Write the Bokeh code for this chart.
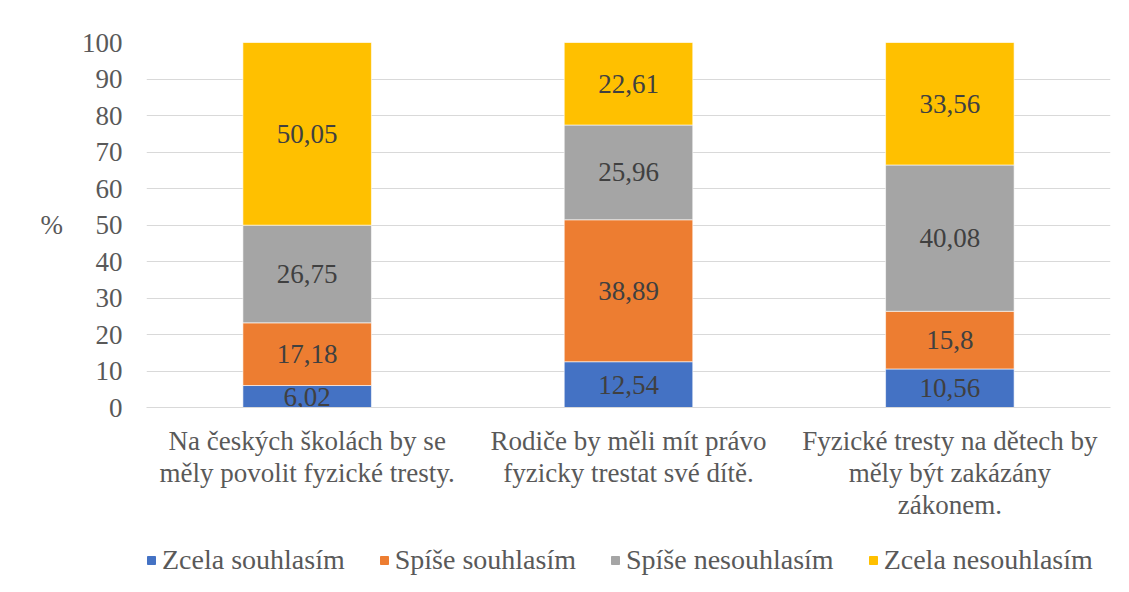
import numpy as np
from bokeh.plotting import figure
from bokeh.layouts import column
from bokeh.models import ColumnDataSource, Range1d, FixedTicker, Legend
from bokeh.core.properties import value
from bokeh.embed import file_html
from bokeh.resources import INLINE

categories = [
    "Na českých školách by se\nměly povolit fyzické tresty.",
    "Rodiče by měli mít právo\nfyzicky trestat své dítě.",
    "Fyzické tresty na dětech by\nměly být zakázány\nzákonem.",
]
series_names = ["Zcela souhlasím", "Spíše souhlasím", "Spíše nesouhlasím", "Zcela nesouhlasím"]
zcela_souhlasim = [6.02, 12.54, 10.56]
spise_souhlasim = [17.18, 38.89, 15.8]
spise_nesouhlasim = [26.75, 25.96, 40.08]
zcela_nesouhlasim = [50.05, 22.61, 33.56]
y_ticks = [0, 10, 20, 30, 40, 50, 60, 70, 80, 90, 100]

colors = ["#4472C4", "#ED7D31", "#A5A5A5", "#FFC000"]
FONT = "'Liberation Serif', 'Times New Roman', serif"
LEGEND_FONT = "Times New Roman"
FS = "27px"

xs = [i + 0.5 for i in range(len(categories))]
series = [zcela_souhlasim, spise_souhlasim, spise_nesouhlasim, zcela_nesouhlasim]
keys = ["s0", "s1", "s2", "s3"]
data = {"x": xs}
for k, s in zip(keys, series):
    data[k] = s
src = ColumnDataSource(data)

p = figure(width=1121, height=532, output_backend="svg", toolbar_location=None,
           x_range=Range1d(0, 3), y_range=Range1d(0, 100),
           min_border_left=146, min_border_right=11, min_border_top=42, min_border_bottom=125)
p.outline_line_color = None
p.background_fill_color = "white"
p.border_fill_color = "white"

renderers = p.vbar_stack(keys, x="x", width=0.4, source=src, color=colors,
                         line_color="white", line_width=0.6)

# data labels
arr = np.array(series)
cum = np.cumsum(arr, axis=0)
mids = cum - arr / 2
lx, ly, lt = [], [], []
for si in range(arr.shape[0]):
    for ci in range(arr.shape[1]):
        lx.append(xs[ci])
        ly.append(mids[si, ci])
        lt.append(str(series[si][ci]).replace(".", ","))
p.text(x=lx, y=ly, text=lt, text_align="center", text_baseline="middle",
       text_font=value(FONT), text_font_size=FS, text_color="#404040")

# axes
p.xaxis.ticker = FixedTicker(ticks=xs)
p.xaxis.major_label_overrides = {x: c for x, c in zip(xs, categories)}
p.xaxis.major_tick_line_color = None
p.xaxis.minor_tick_line_color = None
p.xaxis.major_tick_out = 0
p.xaxis.axis_line_color = "#D9D9D9"
p.xaxis.major_label_standoff = 18
p.xaxis.major_label_text_font = FONT
p.xaxis.major_label_text_font_size = FS
p.xaxis.major_label_text_color = "#595959"
p.xaxis.major_label_text_line_height = 1.07

p.yaxis.ticker = FixedTicker(ticks=y_ticks)
p.yaxis.axis_line_color = None
p.yaxis.major_tick_line_color = None
p.yaxis.minor_tick_line_color = None
p.yaxis.major_label_standoff = 18
p.yaxis.major_label_text_font = FONT
p.yaxis.major_label_text_font_size = FS
p.yaxis.major_label_text_color = "#595959"
p.yaxis.axis_label = "%"
p.yaxis.axis_label_text_font = FONT
p.yaxis.axis_label_text_font_size = FS
p.yaxis.axis_label_text_font_style = "normal"
p.yaxis.axis_label_text_color = "#595959"
p.yaxis.axis_label_standoff = 16
if "axis_label_orientation" in p.yaxis[0].properties():
    p.yaxis.axis_label_orientation = "horizontal"

p.xgrid.grid_line_color = None
p.ygrid.grid_line_color = "#D9D9D9"
p.ygrid.grid_line_width = 1

# legend strip below the chart (its bars are kept out of view)
lf = figure(width=1121, height=56, output_backend="svg", toolbar_location=None,
            x_range=Range1d(10, 11), y_range=Range1d(1000, 1001),
            x_axis_location=None, y_axis_location=None, min_border=0)
lf.outline_line_color = None
lf.background_fill_color = "white"
lf.border_fill_color = "white"
lf.xgrid.visible = False
lf.ygrid.visible = False
lrs = lf.vbar_stack(keys, x="x", width=0.4, source=src, color=colors)

legend = Legend(items=[(n, [r]) for n, r in zip(series_names, lrs)],
                location="left", orientation="horizontal",
                label_text_font=LEGEND_FONT, label_text_font_size="28px",
                label_text_color="#595959",
                glyph_width=10, glyph_height=10, label_standoff=6, spacing=34,
                padding=0, margin=0, border_line_color=None, background_fill_alpha=0)
lf.add_layout(legend)

open("out.html", "w").write(file_html(column(p, lf), INLINE))
